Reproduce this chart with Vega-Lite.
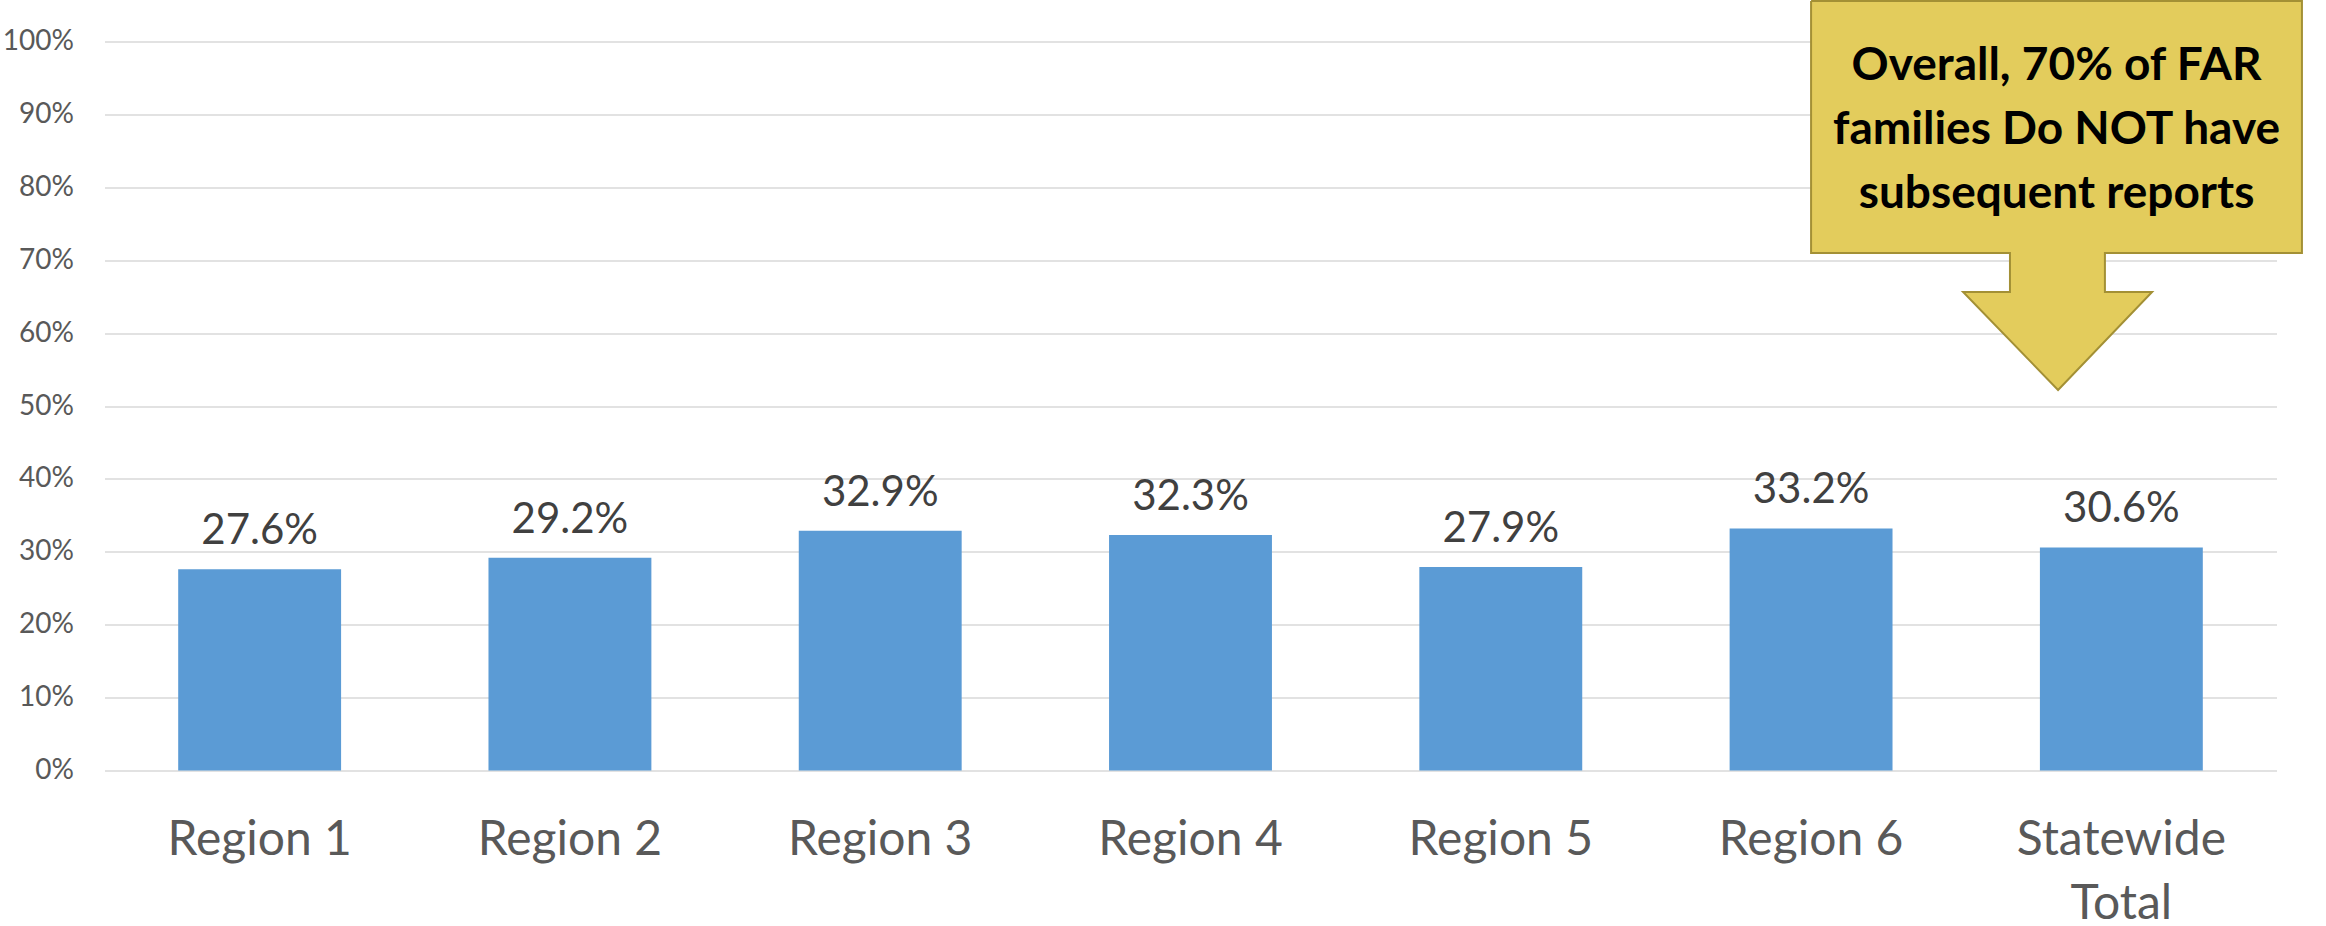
{
  "$schema": "https://vega.github.io/schema/vega-lite/v6.json",
  "autosize": "none",
  "padding": {"left": 104.5, "top": 41.5, "right": 49.5, "bottom": 155.5},
  "width": 2172,
  "height": 729,
  "background": "white",
  "config": {
    "view": {"stroke": null},
    "font": "Lato"
  },
  "datasets": {
    "bars": [
      {"region": "Region 1", "pct": 0.276},
      {"region": "Region 2", "pct": 0.292},
      {"region": "Region 3", "pct": 0.329},
      {"region": "Region 4", "pct": 0.323},
      {"region": "Region 5", "pct": 0.279},
      {"region": "Region 6", "pct": 0.332},
      {"region": "Statewide Total", "pct": 0.306}
    ],
    "callout": [
      {"i": 1, "cx": 5.5, "cy": 1.0556},
      {"i": 2, "cx": 7.082, "cy": 1.0556},
      {"i": 3, "cx": 7.082, "cy": 0.7099},
      {"i": 4, "cx": 6.447, "cy": 0.7099},
      {"i": 5, "cx": 6.447, "cy": 0.6564},
      {"i": 6, "cx": 6.599, "cy": 0.6564},
      {"i": 7, "cx": 6.296, "cy": 0.522},
      {"i": 8, "cx": 5.99, "cy": 0.6564},
      {"i": 9, "cx": 6.141, "cy": 0.6564},
      {"i": 10, "cx": 6.141, "cy": 0.7099},
      {"i": 11, "cx": 5.5, "cy": 0.7099},
      {"i": 12, "cx": 5.5, "cy": 1.0556}
    ],
    "note": [
      {"cx": 6.291, "cy": 0.9472, "txt": "Overall, 70% of FAR\nfamilies Do NOT have\nsubsequent reports"}
    ]
  },
  "layer": [
    {
      "data": {"name": "bars"},
      "layer": [
        {
          "mark": {"type": "bar", "color": "#5B9BD5"},
          "encoding": {
            "x": {
              "field": "region", "type": "nominal", "sort": null,
              "scale": {"paddingInner": 0.475, "paddingOuter": 0.2375},
              "axis": {
                "title": null, "domain": false, "ticks": false, "labelAngle": 0,
                "labelFont": "Lato", "labelFontSize": 48, "labelColor": "#595959",
                "labelPadding": 46, "labelLineHeight": 64, "labelBaseline": "top", "labelLimit": 0,
                "labelExpr": "datum.label == 'Statewide Total' ? ['Statewide', 'Total'] : datum.label"
              }
            },
            "y": {
              "field": "pct", "type": "quantitative",
              "scale": {"domain": [0, 1], "nice": false},
              "axis": {
                "title": null, "format": ".0%", "values": [0, 0.1, 0.2, 0.3, 0.4, 0.5, 0.6, 0.7, 0.8, 0.9, 1],
                "domain": false, "ticks": false, "grid": true, "gridColor": "#D9D9D9", "gridWidth": 1.5,
                "labelFont": "Lato", "labelFontSize": 28, "labelColor": "#595959", "labelPadding": 31
              }
            }
          }
        },
        {
          "mark": {"type": "text", "font": "Lato", "fontSize": 42, "color": "#404040", "baseline": "alphabetic", "dy": -25},
          "encoding": {
            "x": {"field": "region", "type": "nominal", "sort": null},
            "y": {"field": "pct", "type": "quantitative"},
            "text": {"field": "pct", "type": "quantitative", "format": ".1%"}
          }
        }
      ]
    },
    {
      "data": {"name": "callout"},
      "mark": {"type": "line", "fill": "#E3CC5C", "stroke": "#A39035", "strokeWidth": 2, "strokeJoin": "miter", "clip": false},
      "encoding": {
        "x": {"field": "cx", "type": "quantitative", "scale": {"domain": [0, 7], "nice": false, "zero": false}, "axis": null},
        "y": {"field": "cy", "type": "quantitative"},
        "order": {"field": "i", "type": "quantitative"}
      }
    },
    {
      "data": {"name": "note"},
      "mark": {"type": "text", "font": "Lato", "fontWeight": "bold", "fontSize": 46, "color": "#000000", "lineBreak": "\n", "lineHeight": 64, "baseline": "alphabetic", "align": "center"},
      "encoding": {
        "x": {"field": "cx", "type": "quantitative", "scale": {"domain": [0, 7], "nice": false, "zero": false}, "axis": null},
        "y": {"field": "cy", "type": "quantitative"},
        "text": {"field": "txt", "type": "nominal"}
      }
    }
  ],
  "resolve": {"scale": {"x": "independent"}}
}
